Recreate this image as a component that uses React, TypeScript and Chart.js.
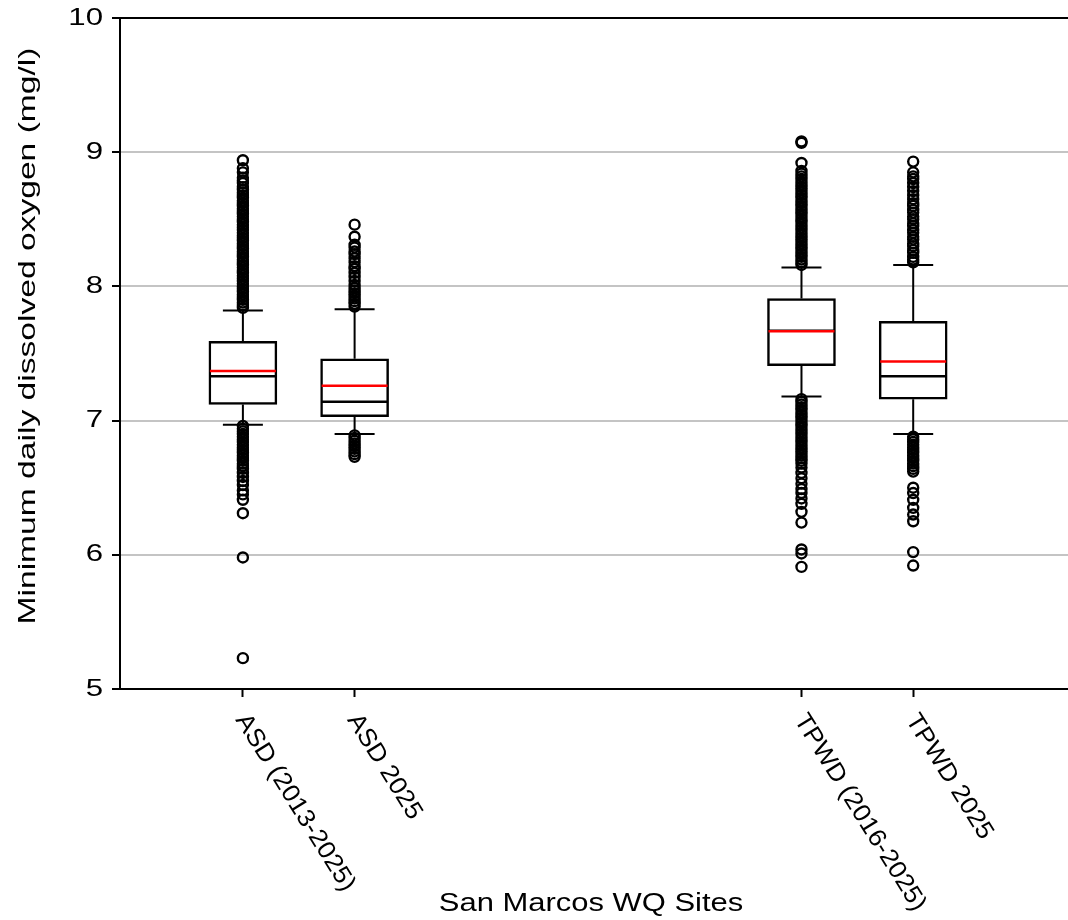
import { useEffect, useRef } from "react";
import { Chart, registerables } from "chart.js";

Chart.register(...registerables);

const categories = ["ASD (2013-2025)", "ASD 2025", "TPWD (2016-2025)", "TPWD 2025"];
const positions = [1, 2, 6, 7];
const q1 = [7.12, 7.03, 7.41, 7.16];
const q3 = [7.59, 7.46, 7.91, 7.74];
const medians = [7.33, 7.14, 7.67, 7.33];
const means = [7.37, 7.26, 7.665, 7.44];
const whiskerLow = [6.97, 6.9, 7.18, 6.9];
const whiskerHigh = [7.82, 7.83, 8.14, 8.16];

const outliersASDAll = [
  7.84, 7.86, 7.88, 7.9, 7.92, 7.94, 7.96, 7.98, 8.0, 8.02, 8.04, 8.06, 8.08, 8.1, 8.12, 8.14,
  8.16, 8.18, 8.2, 8.22, 8.24, 8.26, 8.28, 8.3, 8.32, 8.34, 8.36, 8.38, 8.4, 8.42, 8.44, 8.46,
  8.48, 8.5, 8.52, 8.54, 8.56, 8.58, 8.6, 8.62, 8.64, 8.66, 8.68, 8.7, 8.72, 8.74, 8.77, 8.79,
  8.81, 8.85, 8.88, 8.94,
  6.96, 6.94, 6.92, 6.9, 6.88, 6.86, 6.84, 6.82, 6.8, 6.78, 6.76, 6.74, 6.72, 6.7, 6.68, 6.66,
  6.64, 6.61, 6.58, 6.55, 6.52, 6.48, 6.45, 6.41, 6.31, 5.98, 5.23,
];
const outliersASD2025 = [
  7.85, 7.87, 7.89, 7.91, 7.93, 7.95, 7.97, 7.99, 8.01, 8.04, 8.07, 8.1, 8.13, 8.15, 8.18, 8.21,
  8.24, 8.26, 8.29, 8.31, 8.37, 8.46,
  6.89, 6.87, 6.85, 6.83, 6.81, 6.79, 6.77, 6.75, 6.73,
];
const outliersTPWDAll = [
  8.16, 8.18, 8.2, 8.22, 8.24, 8.26, 8.28, 8.3, 8.32, 8.34, 8.36, 8.38, 8.4, 8.42, 8.44, 8.46,
  8.48, 8.5, 8.52, 8.54, 8.56, 8.58, 8.6, 8.62, 8.64, 8.66, 8.68, 8.7, 8.72, 8.74, 8.76, 8.78,
  8.8, 8.82, 8.84, 8.86, 8.92, 9.07, 9.08,
  7.16, 7.14, 7.12, 7.1, 7.08, 7.06, 7.04, 7.02, 7.0, 6.98, 6.96, 6.94, 6.92, 6.9, 6.88, 6.86,
  6.84, 6.82, 6.8, 6.78, 6.76, 6.74, 6.72, 6.7, 6.68, 6.65, 6.61, 6.57, 6.53, 6.49, 6.46, 6.42,
  6.38, 6.32, 6.24, 6.04, 6.01, 5.91,
];
const outliersTPWD2025 = [
  8.18, 8.2, 8.22, 8.25, 8.27, 8.3, 8.32, 8.35, 8.37, 8.4, 8.42, 8.45, 8.47, 8.5, 8.52, 8.55,
  8.57, 8.6, 8.62, 8.65, 8.68, 8.71, 8.74, 8.77, 8.8, 8.82, 8.85, 8.93,
  6.88, 6.86, 6.84, 6.82, 6.8, 6.78, 6.76, 6.74, 6.72, 6.7, 6.68, 6.66, 6.64, 6.62, 6.5, 6.46,
  6.41, 6.35, 6.3, 6.25, 6.02, 5.92,
];
const outlierSets = [outliersASDAll, outliersASD2025, outliersTPWDAll, outliersTPWD2025];

const yTitle = "Minimum daily dissolved oxygen (mg/l)";
const xTitle = "San Marcos WQ Sites";
const yTickValues = [5, 6, 7, 8, 9, 10];
const yMin = 5;
const yMax = 10;
const xMin = -0.1;
const xMax = 8.4;

const FONT = "'Liberation Sans', Arial, sans-serif";

export default function App() {
  const ref = useRef<HTMLCanvasElement>(null);

  useEffect(() => {
    const canvas = ref.current;
    if (!canvas) return;

    const boxParts = {
      id: "boxParts",
      beforeDatasetsDraw(chart: any) {
        const { ctx } = chart;
        const xs = chart.scales.x;
        const ys = chart.scales.y;
        ctx.save();
        ctx.strokeStyle = "#000";
        ctx.lineWidth = 2;
        positions.forEach((p, i) => {
          const x = xs.getPixelForValue(p);
          const capHalf = 20;
          ctx.beginPath();
          ctx.moveTo(x, ys.getPixelForValue(q3[i]));
          ctx.lineTo(x, ys.getPixelForValue(whiskerHigh[i]));
          ctx.moveTo(x - capHalf, ys.getPixelForValue(whiskerHigh[i]));
          ctx.lineTo(x + capHalf, ys.getPixelForValue(whiskerHigh[i]));
          ctx.moveTo(x, ys.getPixelForValue(q1[i]));
          ctx.lineTo(x, ys.getPixelForValue(whiskerLow[i]));
          ctx.moveTo(x - capHalf, ys.getPixelForValue(whiskerLow[i]));
          ctx.lineTo(x + capHalf, ys.getPixelForValue(whiskerLow[i]));
          ctx.stroke();
        });
        ctx.restore();
      },
      afterDatasetsDraw(chart: any) {
        const { ctx } = chart;
        const xs = chart.scales.x;
        const ys = chart.scales.y;
        const half = 33;
        ctx.save();
        ctx.lineWidth = 2.5;
        positions.forEach((p, i) => {
          const x = xs.getPixelForValue(p);
          ctx.strokeStyle = "#000";
          ctx.beginPath();
          const ym = ys.getPixelForValue(medians[i]);
          ctx.moveTo(x - half, ym);
          ctx.lineTo(x + half, ym);
          ctx.stroke();
          ctx.strokeStyle = "#ff0000";
          ctx.beginPath();
          const ya = ys.getPixelForValue(means[i]);
          ctx.moveTo(x - half, ya);
          ctx.lineTo(x + half, ya);
          ctx.stroke();
        });
        ctx.restore();
      },
      afterDraw(chart: any) {
        const { ctx, chartArea } = chart;
        const xs = chart.scales.x;
        const ys = chart.scales.y;
        ctx.save();
        ctx.fillStyle = "#000";
        // y tick labels
        ctx.font = `24px ${FONT}`;
        ctx.textAlign = "right";
        ctx.textBaseline = "middle";
        yTickValues.forEach((v) => {
          ctx.save();
          ctx.translate(103, ys.getPixelForValue(v));
          ctx.scale(1.3, 1);
          ctx.fillText(String(v), 0, 0);
          ctx.restore();
        });
        // rotated category labels
        ctx.font = `25px ${FONT}`;
        ctx.textAlign = "left";
        ctx.textBaseline = "middle";
        positions.forEach((p, i) => {
          const x = xs.getPixelForValue(p);
          ctx.save();
          ctx.translate(x - 2, chartArea.bottom + 27);
          ctx.rotate((58 * Math.PI) / 180);
          ctx.scale(1.05, 1);
          ctx.fillText(categories[i], 0, 0);
          ctx.restore();
        });
        // y title
        ctx.save();
        ctx.font = `24px ${FONT}`;
        ctx.textAlign = "center";
        ctx.textBaseline = "middle";
        ctx.translate(28, 336);
        ctx.rotate(-Math.PI / 2);
        ctx.scale(1.4, 1);
        ctx.fillText(yTitle, 0, 0);
        ctx.restore();
        // x title
        ctx.save();
        ctx.font = `26px ${FONT}`;
        ctx.textAlign = "center";
        ctx.textBaseline = "middle";
        ctx.translate(591, 904);
        ctx.scale(1.19, 1);
        ctx.fillText(xTitle, 0, 0);
        ctx.restore();
        ctx.restore();
      },
    };

    const outlierPoints: { x: number; y: number }[] = [];
    outlierSets.forEach((set, i) => {
      set.forEach((v) => outlierPoints.push({ x: positions[i], y: v }));
    });

    const chart = new Chart(canvas, {
      type: "bar",
      data: {
        datasets: [
          {
            type: "bar",
            label: "IQR",
            data: positions.map((p, i) => ({ x: p, y: [q1[i], q3[i]] })) as any,
            backgroundColor: "#ffffff",
            borderColor: "#000000",
            borderWidth: 2.5,
            borderSkipped: false,
            barThickness: 68,
          } as any,
          {
            type: "scatter",
            label: "Outliers",
            data: outlierPoints,
            pointStyle: "circle",
            pointRadius: 5,
            pointBorderWidth: 2.4,
            borderColor: "#000000",
            backgroundColor: "rgba(0,0,0,0)",
            showLine: false,
          } as any,
        ],
      },
      options: {
        responsive: false,
        animation: false,
        layout: { padding: { top: 18, right: 0, bottom: 0, left: 0 } },
        plugins: {
          legend: { display: false },
          tooltip: { enabled: false },
        },
        scales: {
          x: {
            type: "linear",
            min: xMin,
            max: xMax,
            offset: false,
            afterBuildTicks: (s: any) => {
              s.ticks = positions.map((v) => ({ value: v }));
            },
            afterFit: (s: any) => {
              s.height = 231;
            },
            ticks: { display: false },
            grid: {
              offset: false,
              drawOnChartArea: false,
              drawTicks: true,
              tickLength: 8,
              tickColor: "#000",
              tickWidth: 2,
            },
            border: { display: true, color: "#000", width: 2 },
          },
          y: {
            type: "linear",
            min: yMin,
            max: yMax,
            afterFit: (s: any) => {
              s.width = 120;
            },
            afterBuildTicks: (s: any) => {
              s.ticks = yTickValues.map((v) => ({ value: v }));
            },
            ticks: { display: false },
            grid: {
              color: (c: any) =>
                c.tick && c.tick.value === yMax
                  ? "#000"
                  : c.tick && c.tick.value === yMin
                  ? "rgba(0,0,0,0)"
                  : "#c4c4c4",
              lineWidth: 2,
              drawTicks: true,
              tickLength: 8,
              tickColor: "#000",
              tickWidth: 2,
            },
            border: { display: true, color: "#000", width: 2 },
          },
        },
      } as any,
      plugins: [boxParts],
    });

    return () => chart.destroy();
  }, []);

  return (
    <div style={{ position: "fixed", left: 0, top: 0, width: 1068, height: 920, background: "#fff", overflow: "hidden" }}>
      <canvas ref={ref} width={1077} height={920} style={{ width: 1077, height: 920, display: "block" }} />
    </div>
  );
}
